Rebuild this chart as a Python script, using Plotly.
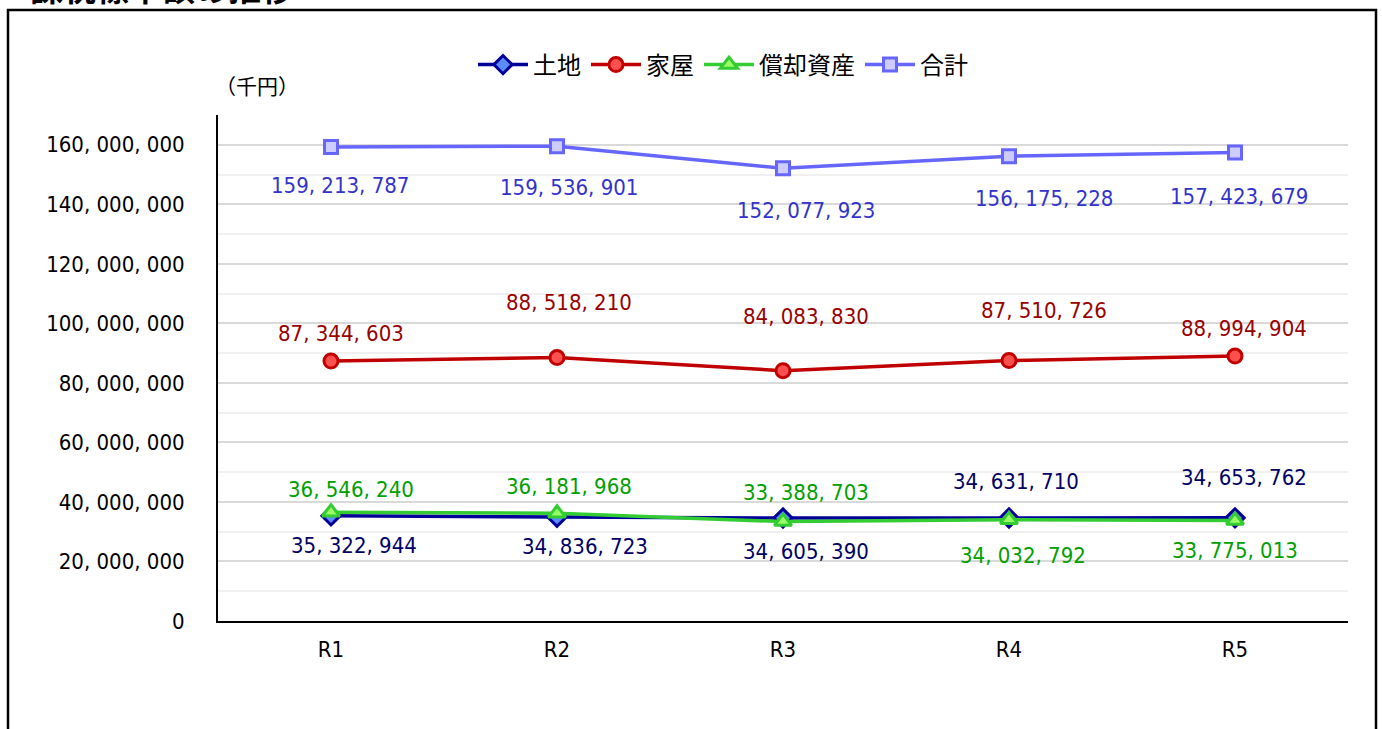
import plotly.graph_objects as go

categories = ["R1", "R2", "R3", "R4", "R5"]
land = [35322944, 34836723, 34605390, 34631710, 34653762]
house = [87344603, 88518210, 84083830, 87510726, 88994904]
depreciable = [36546240, 36181968, 33388703, 34032792, 33775013]
total = [159213787, 159536901, 152077923, 156175228, 157423679]
series_names = ["土地", "家屋", "償却資産", "合計"]
y_tick_vals = [0, 20000000, 40000000, 60000000, 80000000, 100000000, 120000000, 140000000, 160000000]

# label offsets (pixels): (xshift, yshift)
label_offsets = {
    "土地": [(23, -30), (28, -29), (23, -33), (7, 36), (9, 40)],
    "家屋": [(10, 28), (12, 55), (23, 54), (35, 50), (9, 28)],
    "償却資産": [(20, 23), (12, 27), (23, 29), (14, -36), (0, -30)],
    "合計": [(9, -38), (12, -41), (23, -42), (35, -42), (4, -44)],
}

def fmt(v):
    return f"{v:,}".replace(",", ", ")

NUM_FONT = "DejaVu Sans Condensed, Liberation Sans Narrow, sans-serif"
JP_FONT = "Noto Sans CJK JP, sans-serif"

styles = {
    "土地": dict(line="#000099", fill="#5B8CFF", symbol="diamond", size=14, text="#000066"),
    "家屋": dict(line="#C00000", fill="#FF5050", symbol="circle", size=14, text="#990000"),
    "償却資産": dict(line="#33CC33", fill="#99FF66", symbol="triangle-up", size=15, text="#00A000"),
    "合計": dict(line="#6666FF", fill="#CCCCFF", symbol="square", size=13, text="#3333CC"),
}
data = {"土地": land, "家屋": house, "償却資産": depreciable, "合計": total}

fig = go.Figure()
annotations = []
for name in series_names:
    s = styles[name]
    vals = data[name]
    fig.add_trace(go.Scatter(
        x=categories, y=vals, name=name, mode="lines+markers",
        line=dict(color=s["line"], width=3.5),
        marker=dict(symbol=s["symbol"], size=s["size"], color=s["fill"],
                    line=dict(color=s["line"], width=3)),
        hoverinfo="skip",
    ))
    for c, v, (dx, dy) in zip(categories, vals, label_offsets[name]):
        annotations.append(dict(
            x=c, y=v, xref="x", yref="y", text=fmt(v), showarrow=False,
            xanchor="center", yanchor="middle",
            xshift=dx, yshift=dy, font=dict(family=NUM_FONT, size=22, color=s["text"]),
        ))

annotations.append(dict(
    x=(257 - 218) / 1130, y=(621 - 85) / 506, xref="paper", yref="paper",
    xanchor="center", yanchor="middle",
    text="（千円）", showarrow=False, font=dict(family=JP_FONT, size=21, color="#000000"),
))
annotations.append(dict(
    x=(28 - 218) / 1130, y=(621 - 13) / 506, xref="paper", yref="paper",
    xanchor="left", yanchor="bottom",
    text="<b>課税標準額の推移</b>", showarrow=False,
    font=dict(family=JP_FONT, size=33, color="#000000"),
))

fig.update_layout(
    width=1382, height=729,
    margin=dict(l=218, r=34, t=115, b=108),
    paper_bgcolor="white", plot_bgcolor="white",
    annotations=annotations,
    showlegend=True,
    legend=dict(orientation="h", x=(723 - 218) / 1130, y=(621 - 65) / 506,
                xanchor="center", yanchor="middle",
                font=dict(family=JP_FONT, size=24, color="#000000"),
                itemwidth=50, tracegroupgap=0),
    shapes=[dict(type="rect", xref="paper", yref="paper",
                 x0=(8 - 218) / 1130, x1=(1376 - 218) / 1130,
                 y0=(621 - 740) / 506, y1=(621 - 10) / 506,
                 line=dict(color="#000000", width=2.5), layer="below")],
)
fig.update_xaxes(
    type="category", range=[-0.5, 4.5], showgrid=False,
    showline=True, linecolor="#000000", linewidth=2,
    ticks="", tickfont=dict(family=NUM_FONT, size=22, color="#000000"),
    ticklabelstandoff=8,
)
fig.update_yaxes(
    range=[0, 170000000], tickvals=y_tick_vals, ticktext=[fmt(v) for v in y_tick_vals],
    showgrid=True, gridcolor="#D9D9D9", gridwidth=1.5,
    minor=dict(dtick=10000000, showgrid=True, gridcolor="#F0F0F0", gridwidth=1.5),
    showline=True, linecolor="#000000", linewidth=2, zeroline=False,
    ticks="", tickfont=dict(family=NUM_FONT, size=22, color="#000000"),
    ticklabelstandoff=27,
)

fig.write_html("out.html", config={"displayModeBar": False},
               post_script="document.body.style.margin='0';")
